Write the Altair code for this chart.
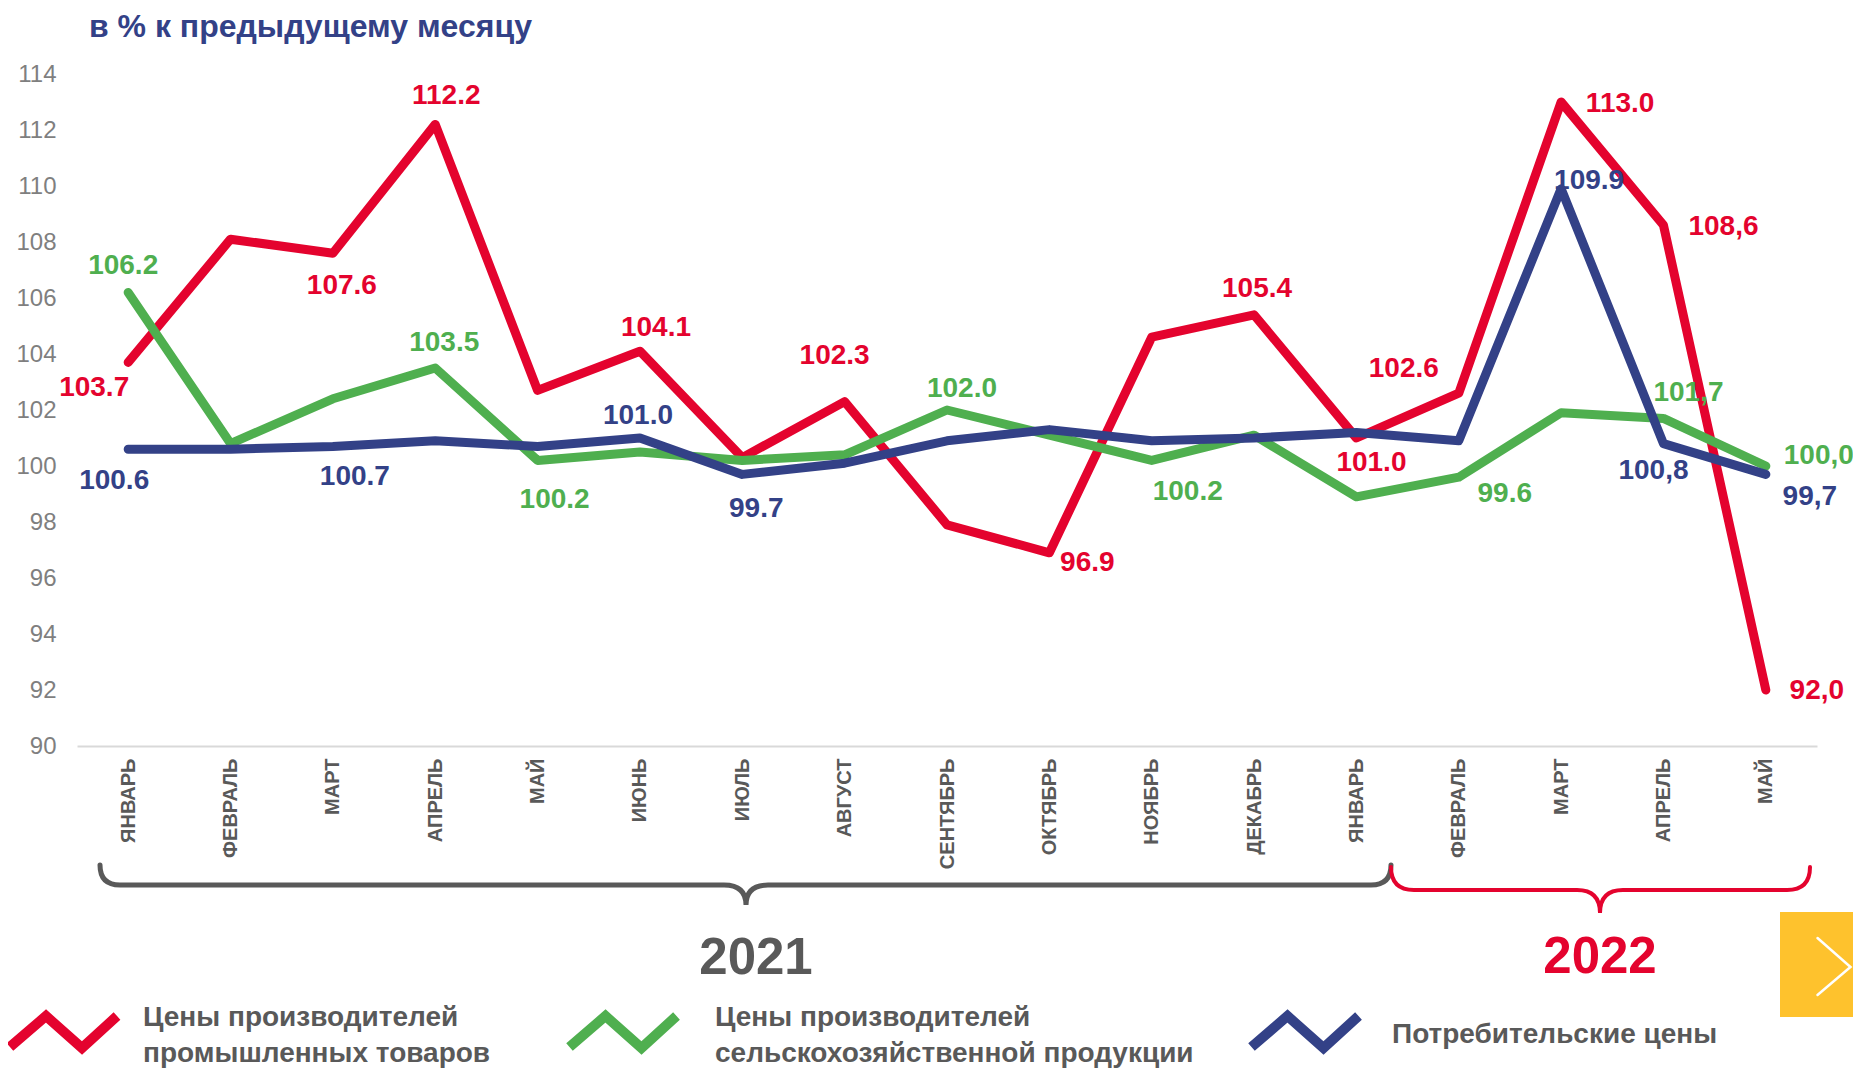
import altair as alt
import pandas as pd

FONT = "Liberation Sans"
FONT_NARROW = "Liberation Sans Narrow, Liberation Sans"

# ---------------- data ----------------
months = ["ЯНВАРЬ", "ФЕВРАЛЬ", "МАРТ", "АПРЕЛЬ", "МАЙ", "ИЮНЬ", "ИЮЛЬ", "АВГУСТ",
          "СЕНТЯБРЬ", "ОКТЯБРЬ", "НОЯБРЬ", "ДЕКАБРЬ",
          "ЯНВАРЬ", "ФЕВРАЛЬ", "МАРТ", "АПРЕЛЬ", "МАЙ"]
years = [2021] * 12 + [2022] * 5

industrial = [103.7, 108.1, 107.6, 112.2, 102.7, 104.1, 100.3, 102.3, 97.9, 96.9,
              104.6, 105.4, 101.0, 102.6, 113.0, 108.6, 92.0]
agricultural = [106.2, 100.8, 102.4, 103.5, 100.2, 100.5, 100.2, 100.4, 102.0, 101.1,
                100.2, 101.1, 98.9, 99.6, 101.9, 101.7, 100.0]
consumer = [100.6, 100.6, 100.7, 100.9, 100.7, 101.0, 99.7, 100.1, 100.9, 101.3,
            100.9, 101.0, 101.2, 100.9, 109.9, 100.8, 99.7]

series_names = ["Цены производителей промышленных товаров",
                "Цены производителей сельскохозяйственной продукции",
                "Потребительские цены"]

# labelled points: (month index, label text)
industrial_labels = [(0, "103.7"), (2, "107.6"), (3, "112.2"), (5, "104.1"), (7, "102.3"),
                     (9, "96.9"), (11, "105.4"), (12, "101.0"), (13, "102.6"),
                     (14, "113.0"), (15, "108,6"), (16, "92,0")]
agricultural_labels = [(0, "106.2"), (3, "103.5"), (4, "100.2"), (8, "102.0"), (10, "100.2"),
                       (13, "99.6"), (15, "101,7"), (16, "100,0")]
consumer_labels = [(0, "100.6"), (2, "100.7"), (5, "101.0"), (6, "99.7"), (14, "109.9"),
                   (15, "100,8"), (16, "99,7")]

year_titles = ["2021", "2022"]

# ---------------- styling / layout (not data) ----------------
RED, GREEN, BLUE = "#E4032E", "#4FAF4F", "#334187"
GRAY = "#595959"

industrial_offsets = [(-34, 26), (9, 33), (11, -28), (16, -23), (-10, -46), (38, 10), (3, -26),
                      (15, 25), (-55, -24), (59, 2), (60, 2), (51, 1)]
agricultural_offsets = [(-5, -26), (9, -25), (17, 40), (15, -21), (36, 32), (46, 17), (25, -25),
                        (53, -10)]
consumer_offsets = [(-14, 32), (22, 31), (-2, -22), (14, 35), (28, -8), (-10, 27), (44, 23)]

keys = [f"{m} {y}" for m, y in zip(months, years)]

x_enc = alt.X(
    "key:N", sort=keys, title=None,
    scale=alt.Scale(type="point", padding=0.5),
    axis=alt.Axis(labelExpr="split(datum.label, ' ')[0]", labelAngle=-90,
                  labelFont=FONT_NARROW, labelFontWeight="bold", labelFontSize=20,
                  labelColor=GRAY, labelPadding=12, ticks=False,
                  domainColor="#d9d9d9", domainWidth=2, grid=False, labelOverlap=False),
)
y_enc = alt.Y(
    "value:Q", title=None,
    scale=alt.Scale(domain=[90, 114], nice=False, zero=False),
    axis=alt.Axis(values=list(range(90, 115, 2)), domain=False, ticks=False, grid=False,
                  labelFont=FONT, labelFontSize=24, labelColor="#7f7f7f", labelPadding=21),
)

layers = []
series = [(industrial, RED, industrial_labels, industrial_offsets),
          (agricultural, GREEN, agricultural_labels, agricultural_offsets),
          (consumer, BLUE, consumer_labels, consumer_offsets)]

for vals, col, _, _ in series:
    df = pd.DataFrame({"key": keys, "value": vals})
    layers.append(
        alt.Chart(df).mark_line(color=col, strokeWidth=9, strokeCap="round",
                                strokeJoin="round").encode(x=x_enc, y=y_enc)
    )

for vals, col, labs, offs in series:
    for (i, txt), (dx, dy) in zip(labs, offs):
        df = pd.DataFrame({"key": [keys[i]], "value": [vals[i]], "label": [txt]})
        layers.append(
            alt.Chart(df).mark_text(dx=dx, dy=dy, font=FONT, fontSize=28, fontWeight="bold",
                                    color=col, align="center", baseline="middle")
            .encode(x=x_enc, y=y_enc, text="label:N")
        )

dummy = pd.DataFrame({"d": [0]})


def txt(t, x, y, size, color, align="left", weight="bold"):
    return alt.Chart(dummy).mark_text(text=t, font=FONT, fontSize=size, fontWeight=weight,
                                      color=color, align=align, baseline="middle").encode(
        x=alt.value(x), y=alt.value(y))


def shape(path, x, y, color, width, cap="butt"):
    return alt.Chart(dummy).mark_point(shape=path, size=4, filled=False, stroke=color,
                                       strokeWidth=width, opacity=1, strokeCap=cap,
                                       strokeJoin="miter").encode(
        x=alt.value(x), y=alt.value(y))


# title
layers.append(txt("в % к предыдущему месяцу", 12, -47, 32, BLUE))

# braces
gray_brace = "M -646 -20 Q -646 0 -626 0 L -22 0 Q 0 0 0 20 Q 0 0 22 0 L 625 0 Q 645 0 645 -20"
red_brace = "M -209 -23 Q -209 0 -186 0 L -23 0 Q 0 0 0 23 Q 0 0 23 0 L 187 0 Q 210 0 210 -23"
layers.append(shape(gray_brace, 669, 811, GRAY, 5, "round"))
layers.append(shape(red_brace, 1523, 816, RED, 4, "round"))
layers.append(txt(year_titles[0], 679, 885, 51, GRAY, align="center"))
layers.append(txt(year_titles[1], 1523, 884, 51, RED, align="center"))

# legend
zig = "M -53.5 15 L -17.5 -16 L 18.5 16 L 53.5 -16"
layers.append(shape(zig, -13.5, 958, RED, 10))
layers.append(shape(zig, 546, 958, GREEN, 10))
layers.append(shape(zig, 1228, 958, BLUE, 10))
layers.append(txt("Цены производителей", 66, 944, 28, GRAY))
layers.append(txt("промышленных товаров", 66, 980, 28, GRAY))
layers.append(txt("Цены производителей", 638, 944, 28, GRAY))
layers.append(txt("сельскохозяйственной продукции", 638, 980, 28, GRAY))
layers.append(txt("Потребительские цены", 1315, 961, 28, GRAY))

# yellow navigation box
layers.append(alt.Chart(dummy).mark_rect(color="#FEC22D").encode(
    x=alt.value(1703), x2=alt.value(1790), y=alt.value(838), y2=alt.value(943)))
layers.append(shape("M -16.5 -29 L 16.5 0 L -16.5 28", 1757, 893, "#ffffff", 2.5, "round"))

chart = alt.layer(*layers).properties(
    width=1740, height=672,
    autosize=alt.AutoSizeParams(type="none"),
    padding={"left": 69, "top": 66, "right": 36, "bottom": 323},
).configure_view(stroke=None)

chart.save("out.html", embed_options={"renderer": "svg", "actions": False})
